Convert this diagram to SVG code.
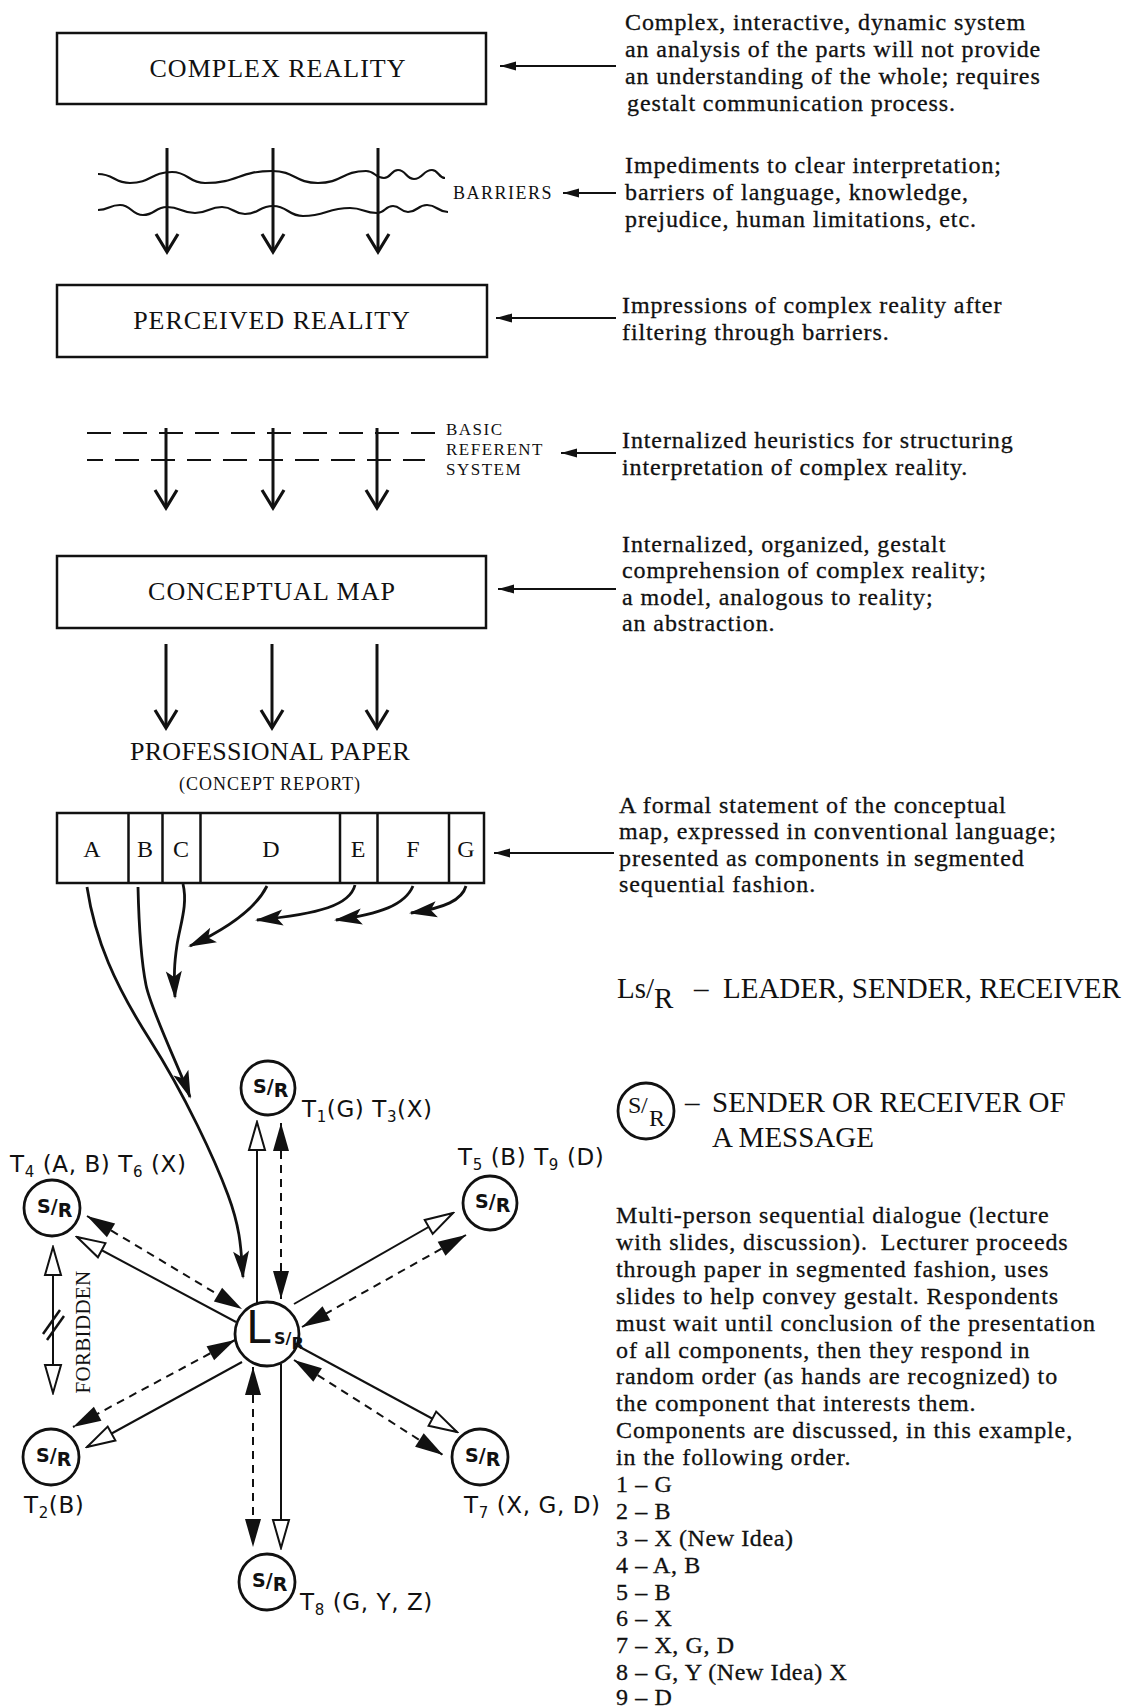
<svg xmlns="http://www.w3.org/2000/svg" width="1126" height="1708" viewBox="0 0 1126 1708">
<style>
  .bg { fill: #fff; }
  .box { fill: none; stroke: #111; stroke-width: 2.5; }
  .lbl { font-family: "Liberation Serif", serif; font-size: 26px; letter-spacing: 1px; text-anchor: middle; fill: #111; }
  .note { font-family: "Liberation Serif", serif; font-size: 24px; letter-spacing: 0.9px; fill: #111; stroke: #111; stroke-width: 0.3px; }
  .list { font-family: "Liberation Serif", serif; font-size: 24px; letter-spacing: 0.6px; fill: #111; stroke: #111; stroke-width: 0.3px; }
  .small { font-family: "Liberation Serif", serif; font-size: 18px; letter-spacing: 1.5px; fill: #111; }
  .legend { font-family: "Liberation Serif", serif; font-size: 29px; fill: #111; }
  .hand { font-family: "DejaVu Sans", sans-serif; font-size: 23px; letter-spacing: 0.6px; fill: #111; }
  .sub { font-size: 15px; }
  .sr { font-family: "DejaVu Sans", sans-serif; font-size: 19px; font-weight: bold; fill: #111; }
  .down { stroke: #111; stroke-width: 3; fill: none; marker-end: url(#vee); }
  .side { stroke: #111; stroke-width: 2.2; fill: none; marker-end: url(#fhead); }
  .curve { stroke: #111; stroke-width: 2.8; fill: none; marker-end: url(#phead); }
  .wave { stroke: #111; stroke-width: 2.2; fill: none; }
  .dline { stroke: #111; stroke-width: 2.2; fill: none; stroke-dasharray: 24 12; }
  .node { fill: #fff; stroke: #111; stroke-width: 2.8; }
  .solid { stroke: #111; stroke-width: 2; fill: none; marker-end: url(#hhead); }
  .dashed { stroke: #111; stroke-width: 2; fill: none; stroke-dasharray: 8 6; marker-start: url(#dhead); marker-end: url(#dhead); }
</style>
<defs>
  <marker id="vee" viewBox="-24 -14 28 28" refX="0" refY="0" markerWidth="28" markerHeight="28" markerUnits="userSpaceOnUse" orient="auto">
    <path d="M-18,-11 L0,0 L-18,11" fill="none" stroke="#111" stroke-width="3.2"/>
  </marker>
  <marker id="fhead" viewBox="-18 -6 20 12" refX="0" refY="0" markerWidth="20" markerHeight="12" markerUnits="userSpaceOnUse" orient="auto">
    <path d="M0,0 L-16,-4.5 L-16,4.5 Z" fill="#111"/>
  </marker>
  <marker id="phead" viewBox="-30 -10 34 20" refX="0" refY="0" markerWidth="34" markerHeight="20" markerUnits="userSpaceOnUse" orient="auto">
    <path d="M2,0 L-26,-8 L-20,0 L-26,8 Z" fill="#111"/>
  </marker>
  <marker id="dhead" viewBox="-30 -10 32 20" refX="0" refY="0" markerWidth="32" markerHeight="20" markerUnits="userSpaceOnUse" orient="auto-start-reverse">
    <path d="M0,0 L-28,-8 L-28,8 Z" fill="#111"/>
  </marker>
  <marker id="hhead" viewBox="-32 -10 34 20" refX="0" refY="0" markerWidth="34" markerHeight="20" markerUnits="userSpaceOnUse" orient="auto-start-reverse">
    <path d="M0,0 L-28,-8 L-28,8 Z" fill="#fff" stroke="#111" stroke-width="2"/>
  </marker>
</defs>

<rect class="bg" x="0" y="0" width="1126" height="1708"/>

<!-- ===== Upper chain: reality to paper ===== -->
<g id="complex-reality">
  <rect class="box" x="57" y="33" width="429" height="71"/>
  <text class="lbl" x="278" y="77">COMPLEX REALITY</text>
</g>

<g id="barriers">
  <path class="wave" d="M98,174 C114,174 114,183 130,183 C151,183 151,172 172,172 C188.5,172 188.5,183 205,183 C238.5,183 238.5,171 272,171 C295,171 295,183 318,183 C342,183 342,171 366,171 C375,171 375,178 384,178 C391,178 391,170 398,170 C406,170 406,179 414,179 C423,179 423,170 432,170 C438.5,170 438.5,178 445,178"/>
  <path class="wave" d="M98,210 C109,210 109,205 120,205 C131.5,205 131.5,215 143,215 C155,215 155,207 167,207 C181,207 181,213 195,213 C208.5,213 208.5,207 222,207 C233.5,207 233.5,214 245,214 C259,214 259,206 273,206 C288,206 288,216 303,216 C326.5,216 326.5,208 350,208 C363.5,208 363.5,213 377,213 C385,213 385,206 393,206 C400.5,206 400.5,212 408,212 C417.5,212 417.5,205 427,205 C437.5,205 437.5,212 448,212"/>
  <text class="small" x="453" y="199">BARRIERS</text>
</g>

<g id="perceived-reality">
  <rect class="box" x="57" y="285" width="430" height="72"/>
  <text class="lbl" x="272" y="329">PERCEIVED REALITY</text>
</g>

<g id="referent-system">
  <line class="dline" x1="87" y1="433" x2="437" y2="433"/>
  <line class="dline" x1="87" y1="460" x2="425" y2="460" stroke-dashoffset="8"/>
  <text class="small" x="446" y="435" style="font-size:17px">BASIC</text>
  <text class="small" x="446" y="455" style="font-size:17px">REFERENT</text>
  <text class="small" x="446" y="475" style="font-size:17px">SYSTEM</text>
</g>

<g id="conceptual-map">
  <rect class="box" x="57" y="556" width="429" height="72"/>
  <text class="lbl" x="272" y="600">CONCEPTUAL MAP</text>
</g>

<g id="professional-paper">
  <text class="lbl" x="270" y="760" style="letter-spacing:0.3px">PROFESSIONAL PAPER</text>
  <text class="small" x="270" y="790" text-anchor="middle" style="letter-spacing:1px">(CONCEPT REPORT)</text>
  <rect class="box" x="57" y="813" width="427" height="70"/>
  <line class="box" x1="128.5" y1="813" x2="128.5" y2="883"/>
  <line class="box" x1="162.5" y1="813" x2="162.5" y2="883"/>
  <line class="box" x1="200.5" y1="813" x2="200.5" y2="883"/>
  <line class="box" x1="340" y1="813" x2="340" y2="883"/>
  <line class="box" x1="377.5" y1="813" x2="377.5" y2="883"/>
  <line class="box" x1="449" y1="813" x2="449" y2="883"/>
  <g class="lbl" style="font-size:24px;letter-spacing:0">
    <text x="92" y="857">A</text>
    <text x="145" y="857">B</text>
    <text x="181" y="857">C</text>
    <text x="271" y="857">D</text>
    <text x="358" y="857">E</text>
    <text x="413" y="857">F</text>
    <text x="466" y="857">G</text>
  </g>
</g>

<!-- downward flow arrows -->
<g id="flow-arrows">
  <line class="down" x1="167" y1="148" x2="167" y2="252"/>
  <line class="down" x1="273" y1="148" x2="273" y2="252"/>
  <line class="down" x1="378" y1="148" x2="378" y2="252"/>
  <line class="down" x1="166" y1="428" x2="166" y2="508"/>
  <line class="down" x1="273" y1="428" x2="273" y2="508"/>
  <line class="down" x1="377" y1="428" x2="377" y2="508"/>
  <line class="down" x1="166" y1="644" x2="166" y2="728"/>
  <line class="down" x1="272" y1="644" x2="272" y2="728"/>
  <line class="down" x1="377" y1="644" x2="377" y2="728"/>
</g>

<!-- pointers from the notes to each stage -->
<g id="note-pointers">
  <line class="side" x1="616" y1="66" x2="500" y2="66"/>
  <line class="side" x1="616" y1="193" x2="563" y2="193"/>
  <line class="side" x1="616" y1="318" x2="496" y2="318"/>
  <line class="side" x1="616" y1="453" x2="561" y2="453"/>
  <line class="side" x1="616" y1="589" x2="498" y2="589"/>
  <line class="side" x1="614" y1="853" x2="494" y2="853"/>
</g>

<!-- notes -->
<g id="notes" class="note">
  <text x="625" y="30">Complex, interactive, dynamic system</text>
  <text x="625" y="57">an analysis of the parts will not provide</text>
  <text x="625" y="84">an understanding of the whole; requires</text>
  <text x="627" y="111">gestalt communication process.</text>

  <text x="625" y="173">Impediments to clear interpretation;</text>
  <text x="625" y="200">barriers of language, knowledge,</text>
  <text x="625" y="227">prejudice, human limitations, etc.</text>

  <text x="622" y="313">Impressions of complex reality after</text>
  <text x="622" y="340">filtering through barriers.</text>

  <text x="622" y="448">Internalized heuristics for structuring</text>
  <text x="622" y="475">interpretation of complex reality.</text>

  <text x="622" y="552">Internalized, organized, gestalt</text>
  <text x="622" y="578">comprehension of complex reality;</text>
  <text x="622" y="605">a model, analogous to reality;</text>
  <text x="622" y="631">an abstraction.</text>

  <text x="619" y="813">A formal statement of the conceptual</text>
  <text x="619" y="839">map, expressed in conventional language;</text>
  <text x="619" y="866">presented as components in segmented</text>
  <text x="619" y="892">sequential fashion.</text>
</g>

<!-- ===== Legend ===== -->
<g id="legend">
  <text class="legend" x="617" y="998">Ls/<tspan dy="10">R</tspan></text>
  <text class="legend" x="694" y="998">–</text>
  <text class="legend" x="723" y="998">LEADER, SENDER, RECEIVER</text>
  <circle class="node" cx="646" cy="1111" r="28"/>
  <text class="legend" x="628" y="1113" style="font-size:24px">S</text>
  <text class="legend" x="641" y="1113" style="font-size:24px">/</text>
  <text class="legend" x="649" y="1126" style="font-size:24px">R</text>
  <text class="legend" x="685" y="1112">–</text>
  <text class="legend" x="712" y="1112">SENDER OR RECEIVER OF</text>
  <text class="legend" x="712" y="1147">A MESSAGE</text>
</g>

<g id="description" class="note">
  <text x="616" y="1223">Multi-person sequential dialogue (lecture</text>
  <text x="616" y="1250">with slides, discussion). <tspan dx="6">Lecturer proceeds</tspan></text>
  <text x="616" y="1277">through paper in segmented fashion, uses</text>
  <text x="616" y="1304">slides to help convey gestalt. Respondents</text>
  <text x="616" y="1331">must wait until conclusion of the presentation</text>
  <text x="616" y="1358">of all components, then they respond in</text>
  <text x="616" y="1384">random order (as hands are recognized) to</text>
  <text x="616" y="1411">the component that interests them.</text>
  <text x="616" y="1438">Components are discussed, in this example,</text>
  <text x="616" y="1465">in the following order.</text>
</g>
<g id="order-list" class="list">
  <text x="616" y="1492">1 – G</text>
  <text x="616" y="1519">2 – B</text>
  <text x="616" y="1546">3 – X (New Idea)</text>
  <text x="616" y="1573">4 – A, B</text>
  <text x="616" y="1600">5 – B</text>
  <text x="616" y="1626">6 – X</text>
  <text x="616" y="1653">7 – X, G, D</text>
  <text x="616" y="1680">8 – G, Y (New Idea) X</text>
  <text x="616" y="1705">9 – D</text>
</g>

<!-- ===== Dialogue network ===== -->
<g id="connectors">
  <!-- components of the paper flowing to the leader -->
  <path class="curve" d="M87,887 C95,940 115,985 150,1040 S215,1160 228,1195 S241,1250 243,1277"/>
  <path class="curve" d="M138,887 C139,930 141,960 146,985 S178,1065 190,1097"/>
  <path class="curve" d="M183,884 C188,905 180,925 177,945 S174,975 175,997"/>
  <path class="curve" d="M267,886 C257,906 235,925 190,946"/>
  <path class="curve" d="M355,885 C350,905 320,914 257,920"/>
  <path class="curve" d="M413,886 C405,905 380,914 336,920"/>
  <path class="curve" d="M466,886 C462,900 445,908 411,913"/>

  <!-- T1 / T3 (top) -->
  <line class="solid" x1="257" y1="1303" x2="257" y2="1122"/>
  <line class="dashed" x1="281" y1="1123" x2="281" y2="1299"/>
  <!-- T4 / T6 (upper left) -->
  <line class="solid" x1="236" y1="1322" x2="77" y2="1237"/>
  <line class="dashed" x1="87" y1="1216" x2="242" y2="1309"/>
  <!-- T5 / T9 (upper right) -->
  <line class="solid" x1="294" y1="1304" x2="453" y2="1213"/>
  <line class="dashed" x1="466" y1="1235" x2="302" y2="1327"/>
  <!-- T2 (lower left) -->
  <line class="solid" x1="242" y1="1362" x2="87" y2="1447"/>
  <line class="dashed" x1="235" y1="1340" x2="73" y2="1427"/>
  <!-- T7 (lower right) -->
  <line class="solid" x1="298" y1="1346" x2="457" y2="1432"/>
  <line class="dashed" x1="294" y1="1360" x2="443" y2="1455"/>
  <!-- T8 (bottom) -->
  <line class="dashed" x1="253" y1="1367" x2="253" y2="1547"/>
  <line class="solid" x1="281" y1="1364" x2="281" y2="1548"/>

  <!-- forbidden direct exchange between respondents -->
  <line class="solid" x1="53" y1="1320" x2="53" y2="1247"/>
  <line class="solid" x1="53" y1="1320" x2="53" y2="1393"/>
  <line x1="43" y1="1334" x2="60" y2="1310" stroke="#111" stroke-width="2.5"/>
  <line x1="47" y1="1340" x2="64" y2="1316" stroke="#111" stroke-width="2.5"/>
  <text class="small" transform="translate(90,1332) rotate(-90)" text-anchor="middle" style="font-size:21px;letter-spacing:0.3px">FORBIDDEN</text>
</g>

<g id="leader">
  <circle class="node" cx="267" cy="1334" r="32"/>
  <text x="246" y="1343" style="font-family:'DejaVu Sans',sans-serif;font-size:44px;fill:#111">L</text>
  <text class="sr" x="274" y="1344" style="font-size:16px">S/<tspan dy="5">R</tspan></text>
</g>

<g id="t1">
  <circle class="node" cx="268" cy="1088" r="27"/>
  <text class="sr" x="253" y="1093">S/<tspan dy="4">R</tspan></text>
  <text class="hand" x="302" y="1117">T<tspan class="sub" dy="5">1</tspan><tspan dy="-5">(G) T</tspan><tspan class="sub" dy="5">3</tspan><tspan dy="-5">(X)</tspan></text>
</g>

<g id="t4">
  <circle class="node" cx="52" cy="1208" r="28"/>
  <text class="sr" x="37" y="1213">S/<tspan dy="4">R</tspan></text>
  <text class="hand" x="10" y="1172">T<tspan class="sub" dy="5">4</tspan><tspan dy="-5"> (A, B) T</tspan><tspan class="sub" dy="5">6</tspan><tspan dy="-5"> (X)</tspan></text>
</g>

<g id="t5">
  <circle class="node" cx="490" cy="1203" r="27"/>
  <text class="sr" x="475" y="1208">S/<tspan dy="4">R</tspan></text>
  <text class="hand" x="458" y="1165">T<tspan class="sub" dy="5">5</tspan><tspan dy="-5"> (B) T</tspan><tspan class="sub" dy="5">9</tspan><tspan dy="-5"> (D)</tspan></text>
</g>

<g id="t2">
  <circle class="node" cx="51" cy="1457" r="28"/>
  <text class="sr" x="36" y="1462">S/<tspan dy="4">R</tspan></text>
  <text class="hand" x="24" y="1513">T<tspan class="sub" dy="5">2</tspan><tspan dy="-5">(B)</tspan></text>
</g>

<g id="t7">
  <circle class="node" cx="480" cy="1457" r="28"/>
  <text class="sr" x="465" y="1462">S/<tspan dy="4">R</tspan></text>
  <text class="hand" x="464" y="1513">T<tspan class="sub" dy="5">7</tspan><tspan dy="-5"> (X, G, D)</tspan></text>
</g>

<g id="t8">
  <circle class="node" cx="267" cy="1582" r="28"/>
  <text class="sr" x="252" y="1587">S/<tspan dy="4">R</tspan></text>
  <text class="hand" x="300" y="1610">T<tspan class="sub" dy="5">8</tspan><tspan dy="-5"> (G, Y, Z)</tspan></text>
</g>
</svg>
